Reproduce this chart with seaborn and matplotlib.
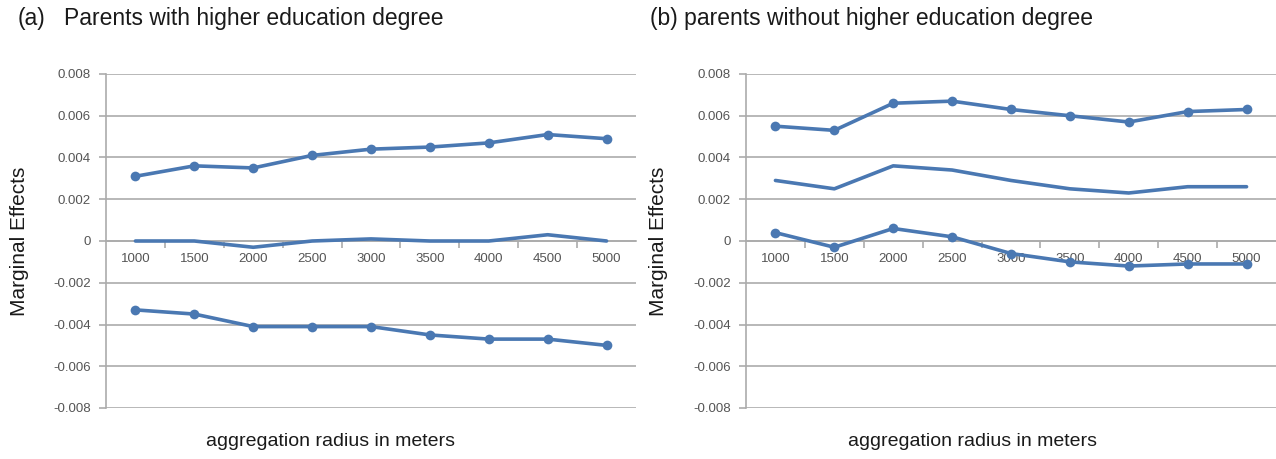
import matplotlib
matplotlib.use('Agg')
import matplotlib.pyplot as plt
import numpy as np
import pandas as pd
import seaborn as sns

sns.set_style('white')
plt.rcParams['font.family'] = ['Liberation Sans', 'DejaVu Sans']

#%% data
radius = ['1000', '1500', '2000', '2500', '3000', '3500', '4000', '4500', '5000']

a_upper = [0.0031, 0.0036, 0.0035, 0.0041, 0.0044, 0.0045, 0.0047, 0.0051, 0.0049]
a_mid = [0.0000, 0.0000, -0.0003, 0.0000, 0.0001, 0.0000, 0.0000, 0.0003, 0.0000]
a_lower = [-0.0033, -0.0035, -0.0041, -0.0041, -0.0041, -0.0045, -0.0047, -0.0047, -0.0050]

b_upper = [0.0055, 0.0053, 0.0066, 0.0067, 0.0063, 0.0060, 0.0057, 0.0062, 0.0063]
b_mid = [0.0029, 0.0025, 0.0036, 0.0034, 0.0029, 0.0025, 0.0023, 0.0026, 0.0026]
b_lower = [0.0004, -0.0003, 0.0006, 0.0002, -0.0006, -0.0010, -0.0012, -0.0011, -0.0011]

yticks = [-0.008, -0.006, -0.004, -0.002, 0, 0.002, 0.004, 0.006, 0.008]
yticklabels = ['-0.008', '-0.006', '-0.004', '-0.002', '0', '0.002', '0.004', '0.006', '0.008']

blue = '#4a78b2'
grid = '#ababab'

#%% plot
fig = plt.figure(figsize=(12.76, 4.59), dpi=100)
ax_a = fig.add_axes([106/1276, 1-408/459, 530/1276, 334/459])
ax_b = fig.add_axes([746/1276, 1-408/459, 530/1276, 334/459])


def panel(ax, upper, mid, lower):
    df = pd.DataFrame({'radius': radius, 'upper': upper, 'mid': mid, 'lower': lower})
    for col in ['upper', 'lower']:
        sns.lineplot(x='radius', y=col, data=df, ax=ax, color=blue, lw=2.6,
                     marker='o', markersize=7, markeredgewidth=0, zorder=3)
    sns.lineplot(x='radius', y='mid', data=df, ax=ax, color=blue, lw=2.6, zorder=3)
    ax.set(xlim=(-0.5, 8.5), ylim=(-0.008, 0.008), xlabel='', ylabel='')
    ax.set_yticks(yticks)
    ax.set_yticklabels(yticklabels)
    ax.yaxis.grid(True, color=grid, lw=1.2)
    ax.set_axisbelow(True)
    for s in ['top', 'right']:
        ax.spines[s].set_visible(False)
    ax.spines['left'].set_color(grid)
    ax.spines['left'].set_linewidth(1.2)
    ax.spines['bottom'].set_position(('data', 0))
    ax.spines['bottom'].set_color(grid)
    ax.spines['bottom'].set_linewidth(1.2)
    ax.set_xticks(np.arange(0.5, 8, 1), minor=True)
    ax.tick_params(axis='y', length=5, color=grid, width=1.2, labelsize=9.5,
                   labelcolor='#555555', pad=6, left=True)
    ax.tick_params(axis='x', which='major', length=0, labelsize=9.5,
                   labelcolor='#555555', pad=9)
    ax.tick_params(axis='x', which='minor', length=5, color=grid, width=1.2,
                   direction='out', bottom=True)


panel(ax_a, a_upper, a_mid, a_lower)
panel(ax_b, b_upper, b_mid, b_lower)

fig.text(18/1276, 1-19/459, '(a)', fontsize=16.5, va='center', color='#1a1a1a')
fig.text(64/1276, 1-19/459, 'Parents with higher education degree', fontsize=16.5,
         va='center', color='#1a1a1a')
fig.text(650/1276, 1-19/459, '(b) parents without higher education degree',
         fontsize=16.5, va='center', color='#1a1a1a')

for x in [20, 658]:
    fig.text(x/1276, 1-241/459, 'Marginal Effects', rotation=90, fontsize=15,
             va='center', ha='center', color='#1a1a1a')
for x in [331, 972]:
    fig.text(x/1276, 1-441/459, 'aggregation radius in meters', fontsize=14,
             va='center', ha='center', color='#1a1a1a')

fig.savefig('out.png', dpi=100)
